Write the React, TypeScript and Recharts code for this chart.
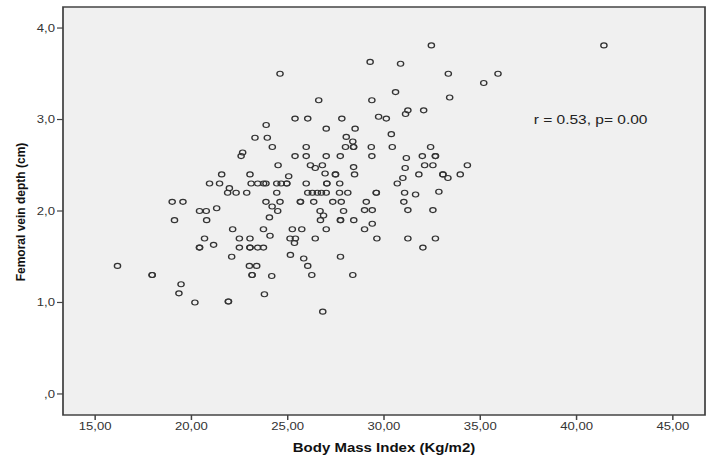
import React from "react";
import {
  ScatterChart,
  Scatter,
  XAxis,
  YAxis,
  CartesianGrid,
  ReferenceArea,
} from "recharts";

// body mass index (x) and femoral vein depth (y)
const bmi = [
  21.57, 20.94, 21.46, 19.0, 19.56, 20.42, 20.77, 21.31, 19.12, 20.79,
  20.68, 20.42, 20.42, 21.15, 16.16, 17.96, 17.96, 19.46, 19.35, 20.18,
  22.66, 22.58, 25.38, 25.96, 27.0, 27.73, 24.5, 26.18, 26.8, 26.43,
  23.04, 25.05, 26.94, 27.48, 27.48, 23.1, 23.44, 23.75, 23.87, 24.43,
  24.66, 24.95, 24.95, 25.96, 27.03, 27.03, 27.7, 21.97, 21.88, 22.32,
  22.87, 24.43, 26.04, 26.28, 26.54, 26.75, 27.0, 27.69, 23.87, 24.6,
  25.66, 25.66, 26.35, 27.34, 27.78, 24.19, 24.48, 26.68, 27.9, 24.05,
  26.86, 26.7, 27.74, 27.74, 22.14, 23.74, 25.24, 25.73, 27.0, 22.49,
  23.04, 24.08, 25.12, 25.4, 25.35, 26.43, 22.49, 23.04, 23.04, 23.44,
  23.74, 22.09, 25.14, 25.83, 27.74, 23.01, 23.39, 26.04, 23.15, 23.15,
  24.17, 26.25, 23.79, 21.92, 21.92, 26.82, 24.6, 26.61, 25.38, 26.04,
  23.88, 27.0, 23.3, 23.94, 24.2, 25.96, 32.46, 29.28, 30.86, 33.34,
  30.6, 33.41, 29.37, 31.24, 31.12, 32.06, 27.81, 29.72, 30.12, 28.5,
  30.38, 28.04, 28.38, 28.0, 28.42, 28.42, 29.34, 30.43, 32.42, 29.37,
  31.16, 31.99, 32.67, 32.67, 28.42, 31.1, 32.11, 32.54, 28.47, 31.81,
  33.06, 33.06, 33.32, 33.96, 34.33, 30.98, 30.69, 28.12, 29.6, 29.6,
  31.07, 31.64, 32.85, 29.08, 31.03, 28.99, 29.39, 31.24, 32.54, 28.43,
  28.99, 29.39, 29.63, 31.24, 32.67, 32.02, 28.38, 41.42, 35.18, 35.92,
];

const depth = [
  2.4, 2.3, 2.3, 2.1, 2.1, 2.0, 2.0, 2.03, 1.9, 1.9,
  1.7, 1.6, 1.6, 1.63, 1.4, 1.3, 1.3, 1.2, 1.1, 1.0,
  2.64, 2.6, 2.6, 2.6, 2.6, 2.6, 2.5, 2.5, 2.5, 2.47,
  2.4, 2.38, 2.41, 2.4, 2.4, 2.3, 2.3, 2.3, 2.3, 2.3,
  2.3, 2.3, 2.3, 2.3, 2.3, 2.3, 2.3, 2.25, 2.2, 2.2,
  2.2, 2.2, 2.2, 2.2, 2.2, 2.2, 2.2, 2.2, 2.1, 2.1,
  2.1, 2.1, 2.1, 2.1, 2.1, 2.05, 2.0, 2.0, 2.0, 1.93,
  1.95, 1.9, 1.9, 1.9, 1.8, 1.8, 1.8, 1.8, 1.8, 1.7,
  1.7, 1.73, 1.7, 1.7, 1.65, 1.7, 1.6, 1.6, 1.6, 1.6,
  1.6, 1.5, 1.52, 1.48, 1.5, 1.4, 1.4, 1.4, 1.3, 1.3,
  1.29, 1.3, 1.09, 1.01, 1.01, 0.9, 3.5, 3.21, 3.01, 3.01,
  2.94, 2.9, 2.8, 2.8, 2.7, 2.7, 3.81, 3.63, 3.61, 3.5,
  3.3, 3.24, 3.21, 3.1, 3.06, 3.1, 3.01, 3.03, 3.01, 2.9,
  2.84, 2.81, 2.76, 2.7, 2.7, 2.7, 2.7, 2.7, 2.7, 2.6,
  2.58, 2.6, 2.6, 2.6, 2.48, 2.47, 2.5, 2.5, 2.4, 2.4,
  2.4, 2.4, 2.36, 2.4, 2.5, 2.36, 2.3, 2.2, 2.2, 2.2,
  2.2, 2.18, 2.21, 2.1, 2.1, 2.01, 2.01, 2.01, 2.01, 1.9,
  1.8, 1.86, 1.7, 1.7, 1.7, 1.6, 1.3, 3.81, 3.4, 3.5,
];

const xTicks = [15, 20, 25, 30, 35, 40, 45];
const yTicks = [0, 1, 2, 3, 4];
const xDomain = [13.33, 46.67];
const yDomain = [-0.23, 4.23];
const corrText = "r = 0.53, p= 0.00";

// the reference image is stretched sideways, so draw narrower and scale
const STRETCH = 1.25;
const W = 710 / STRETCH;
const H = 464;
const FONT = '"Liberation Sans", Arial, sans-serif';

function Dot(props: any) {
  const { cx, cy } = props;
  if (cx == null || cy == null) return null;
  return (
    <circle cx={cx} cy={cy} r={2.5} fill="none" stroke="#333" strokeWidth={1.1} />
  );
}

const fmtX = (v: number) => v.toFixed(2).replace(".", ",");
const fmtY = (v: number) => (v === 0 ? ",0" : v.toFixed(1).replace(".", ","));

function App() {
  const data = bmi.map((x, i) => ({ bmi: x, depth: depth[i] }));

  return (
    <div
      style={{
        position: "absolute",
        left: 0,
        top: 0,
        width: 710,
        height: 464,
        background: "#fff",
        overflow: "hidden",
      }}
    >
      <div
        style={{
          position: "relative",
          width: W,
          height: H,
          transform: `scaleX(${STRETCH})`,
          transformOrigin: "0 0",
        }}
      >
        <ScatterChart
          width={W}
          height={H}
          margin={{ top: 7, right: 4, bottom: 19, left: 0 }}
        >
          <CartesianGrid horizontal={false} vertical={false} fill="#F0F0F0" />
          <XAxis
            type="number"
            dataKey="bmi"
            domain={xDomain}
            ticks={xTicks}
            allowDataOverflow
            height={30}
            tickFormatter={fmtX}
            tick={{ fontSize: 10.5, fill: "#333", fontFamily: FONT }}
            tickSize={5}
            tickMargin={3}
            axisLine={false}
            tickLine={{ stroke: "#444", strokeWidth: 1.2 }}
            label={{
              content: (p: any) => (
                <text
                  x={p.viewBox.x + p.viewBox.width / 2}
                  y={452}
                  textAnchor="middle"
                  fontSize={12}
                  fontWeight="bold"
                  fontFamily={FONT}
                  fill="#111"
                >
                  Body Mass Index (Kg/m2)
                </text>
              ),
            }}
          />
          <YAxis
            type="number"
            dataKey="depth"
            domain={yDomain}
            ticks={yTicks}
            allowDataOverflow
            width={50.4}
            tickFormatter={fmtY}
            tick={{ fontSize: 10.5, fill: "#333", fontFamily: FONT }}
            tickSize={4.8}
            tickMargin={1.6}
            axisLine={false}
            tickLine={{ stroke: "#444", strokeWidth: 1.2 }}
            label={{
              content: () => (
                <text
                  x={0}
                  y={0}
                  transform={`translate(20 212) scale(${1 / STRETCH} 1) rotate(-90)`}
                  textAnchor="middle"
                  fontSize={12}
                  fontWeight="bold"
                  fontFamily={FONT}
                  fill="#111"
                >
                  Femoral vein depth (cm)
                </text>
              ),
            }}
          />
          <ReferenceArea
            x1={xDomain[0]}
            x2={xDomain[1]}
            y1={yDomain[0]}
            y2={yDomain[1]}
            fill="none"
            stroke="#444"
            strokeWidth={1.4}
            ifOverflow="visible"
          />
          <Scatter data={data} shape={Dot} isAnimationActive={false} />
        </ScatterChart>
        <div
          style={{
            position: "absolute",
            left: 427,
            top: 114,
            fontSize: 12.4,
            lineHeight: "12px",
            fontFamily: FONT,
            color: "#222",
            whiteSpace: "nowrap",
          }}
        >
          {corrText}
        </div>
      </div>
    </div>
  );
}

export default App;
